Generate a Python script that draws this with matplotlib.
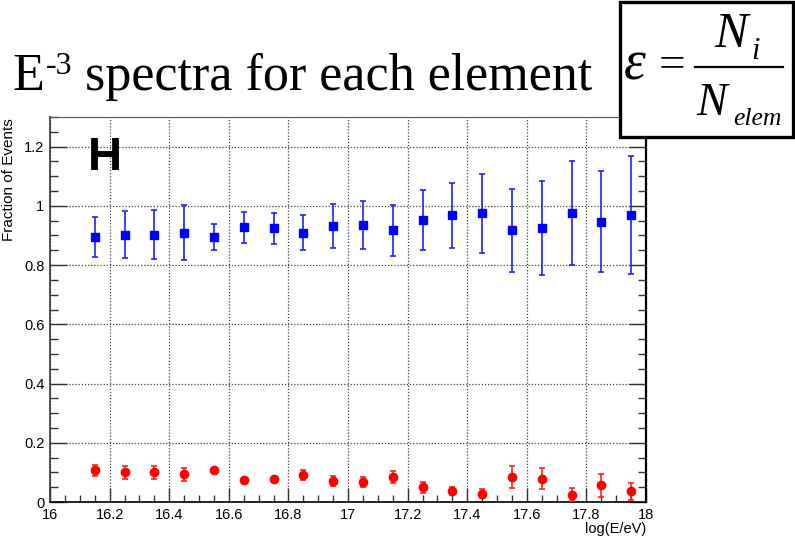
import matplotlib
matplotlib.use("Agg")
import matplotlib.pyplot as plt
from matplotlib.patches import Rectangle
from matplotlib.lines import Line2D
from matplotlib.ticker import MultipleLocator, FixedLocator

# ---------------- data ----------------
log_e = [16.15, 16.25, 16.35, 16.45, 16.55, 16.65, 16.75, 16.85, 16.95, 17.05,
         17.15, 17.25, 17.35, 17.45, 17.55, 17.65, 17.75, 17.85, 17.95]
frac_blue = [0.895, 0.903, 0.903, 0.910, 0.895, 0.927, 0.924, 0.910, 0.931, 0.935,
             0.917, 0.953, 0.968, 0.975, 0.917, 0.924, 0.975, 0.947, 0.968]
err_blue = [0.067, 0.078, 0.084, 0.092, 0.045, 0.051, 0.053, 0.060, 0.074, 0.082,
            0.085, 0.101, 0.109, 0.134, 0.141, 0.159, 0.176, 0.169, 0.199]
frac_red = [0.107, 0.100, 0.100, 0.093, 0.107, 0.074, 0.079, 0.092, 0.071, 0.067,
            0.085, 0.050, 0.037, 0.028, 0.085, 0.079, 0.024, 0.056, 0.036]
err_red = [0.018, 0.021, 0.021, 0.021, 0.006, 0.005, 0.005, 0.017, 0.016, 0.018,
           0.021, 0.018, 0.015, 0.015, 0.037, 0.035, 0.022, 0.038, 0.029]

x_ticks = [16, 16.2, 16.4, 16.6, 16.8, 17, 17.2, 17.4, 17.6, 17.8, 18]
x_ticklabels = ["16", "16.2", "16.4", "16.6", "16.8", "17", "17.2", "17.4", "17.6", "17.8", "18"]
y_ticks = [0, 0.2, 0.4, 0.6, 0.8, 1.0, 1.2]
y_ticklabels = ["0", "0.2", "0.4", "0.6", "0.8", "1", "1.2"]

W, H = 795, 540
fig = plt.figure(figsize=(W / 100, H / 100), dpi=100)
fig.patch.set_facecolor("white")


def fx(px):
    return px / W


def fy(py):
    return 1 - py / H


# axes: x 50..646 px, y 117..502 px
ax = fig.add_axes([fx(50), fy(502), (646 - 50) / W, (502 - 117) / H])
ax.set_xlim(16, 18)
ax.set_ylim(0, 1.3)

ax.errorbar(log_e, frac_blue, yerr=err_blue, fmt="s", ms=6, color="#0000ff",
            ecolor="#2020ff", elinewidth=1.2, capsize=2.2, capthick=1.2, zorder=3)
ax.errorbar(log_e, frac_red, yerr=err_red, fmt="o", ms=6, color="#ff0000",
            ecolor="#ff2020", elinewidth=1.2, capsize=2.2, capthick=1.2, zorder=3)

ax.xaxis.set_major_locator(FixedLocator(x_ticks))
ax.set_xticklabels(x_ticklabels)
ax.xaxis.set_minor_locator(MultipleLocator(0.05))
ax.yaxis.set_major_locator(FixedLocator(y_ticks))
ax.set_yticklabels(y_ticklabels)
ax.yaxis.set_minor_locator(MultipleLocator(0.05))

ax.tick_params(axis="both", which="both", direction="in", colors="#333333",
               labelcolor="black", labelsize=10.5)
ax.tick_params(axis="x", which="major", length=10, width=1.0, pad=4, top=False)
ax.tick_params(axis="x", which="minor", length=5, width=1.0, top=False)
ax.tick_params(axis="y", which="major", length=12, width=1.0, pad=4, right=True)
ax.tick_params(axis="y", which="minor", length=6, width=1.0, right=True)
for lab in ax.get_xticklabels() + ax.get_yticklabels():
    lab.set_fontfamily("Liberation Sans")

ax.grid(True, which="major", linestyle=(0, (1, 1.5)), color="#444444", linewidth=0.9)
ax.set_axisbelow(True)

ax.spines["left"].set_color("#333333")
ax.spines["left"].set_linewidth(1.2)
ax.spines["bottom"].set_color("black")
ax.spines["bottom"].set_linewidth(1.2)
ax.spines["right"].set_color("black")
ax.spines["right"].set_linewidth(1.6)
ax.spines["top"].set_color("#555555")
ax.spines["top"].set_linewidth(0.8)

# axis titles (ROOT style, at the ends of the axes)
fig.text(fx(9), fy(118), "Fraction of Events", rotation=90, ha="center", va="top",
         fontsize=11, family="Liberation Sans")
fig.text(fx(646), fy(529), "log(E/eV)", ha="right", va="center",
         fontsize=10.5, family="Liberation Sans")

# element label
fig.text(fx(88), fy(170), "H", ha="left", va="baseline", fontsize=34,
         fontweight="bold", family="Liberation Sans")

# ---------------- title ----------------
renderer = fig.canvas.get_renderer()
t1 = fig.text(fx(13), fy(90), "E", ha="left", va="baseline", fontsize=37.5,
              family="Liberation Serif")
bb1 = t1.get_window_extent(renderer)
t2 = fig.text((bb1.x1 + 1) / W, fy(74), "-3", ha="left", va="baseline", fontsize=23,
              family="Liberation Serif")
bb2 = t2.get_window_extent(renderer)
t3 = fig.text((bb2.x1) / W, fy(90), " spectra for each element", ha="left",
              va="baseline", fontsize=37.5, family="Liberation Serif")

# ---------------- equation box ----------------
box = Rectangle((fx(620), fy(137)), (793 - 620) / W, (137 - 2) / H,
                transform=fig.transFigure, facecolor="white", edgecolor="black",
                linewidth=2.4, zorder=5)
fig.add_artist(box)
eq_kw = dict(family="Liberation Serif", style="italic", zorder=6)
fig.text(fx(624), fy(66), "\u03b5", ha="left", va="center", fontsize=40, **eq_kw)
fig.text(fx(659), fy(66), "=", ha="left", va="center", fontsize=34,
         family="Liberation Serif", zorder=6)
fig.add_artist(Line2D([fx(695), fx(783)], [fy(67), fy(67)], transform=fig.transFigure,
                      color="black", linewidth=1.6, zorder=6))
fig.text(fx(714), fy(47), "N", ha="left", va="baseline", fontsize=36, **eq_kw)
fig.text(fx(751), fy(59), "i", ha="left", va="baseline", fontsize=22, **eq_kw)
fig.text(fx(696), fy(115), "N", ha="left", va="baseline", fontsize=33, **eq_kw)
fig.text(fx(733), fy(125), "elem", ha="left", va="baseline", fontsize=18.5, **eq_kw)

fig.savefig("out.png", dpi=100)
